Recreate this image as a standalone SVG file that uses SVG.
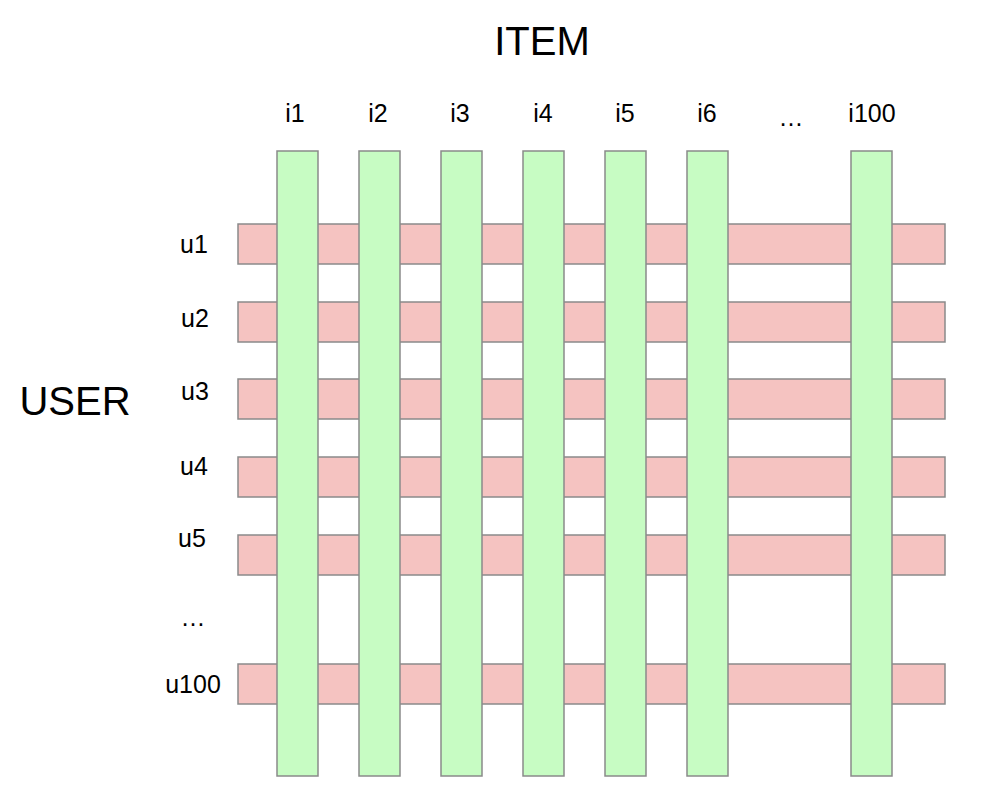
<svg xmlns="http://www.w3.org/2000/svg" width="981" height="807" viewBox="0 0 981 807">
<style>
  .row { fill: #f5c3c1; stroke: #8a8a8a; stroke-width: 1.5; }
  .col { fill: #c7fcc3; stroke: #8a8a8a; stroke-width: 1.5; }
  .lbl { font-family: "Liberation Sans", Arial, sans-serif; font-size: 25px; fill: #000; text-anchor: middle; }
  .title { font-family: "Liberation Sans", Arial, sans-serif; font-size: 40px; fill: #000; text-anchor: middle; }
</style>
<rect width="981" height="807" fill="#ffffff"/>
<text class="title" x="542" y="55">ITEM</text>
<text class="title" x="75" y="415">USER</text>
<g id="rows">
  <g id="u1"><rect class="row" x="238" y="224" width="707" height="40"/><text class="lbl" x="194" y="253">u1</text></g>
  <g id="u2"><rect class="row" x="238" y="302" width="707" height="40"/><text class="lbl" x="195" y="327">u2</text></g>
  <g id="u3"><rect class="row" x="238" y="379" width="707" height="40"/><text class="lbl" x="195" y="400">u3</text></g>
  <g id="u4"><rect class="row" x="238" y="457" width="707" height="40"/><text class="lbl" x="194" y="475">u4</text></g>
  <g id="u5"><rect class="row" x="238" y="535" width="707" height="40"/><text class="lbl" x="192" y="547">u5</text></g>
  <g id="udots"><text class="lbl" x="193" y="626">…</text></g>
  <g id="u100"><rect class="row" x="238" y="664" width="707" height="40"/><text class="lbl" x="193" y="693">u100</text></g>
</g>
<g id="cols">
  <g id="i1"><rect class="col" x="277" y="151" width="41" height="625"/><text class="lbl" x="295" y="122">i1</text></g>
  <g id="i2"><rect class="col" x="359" y="151" width="41" height="625"/><text class="lbl" x="378" y="122">i2</text></g>
  <g id="i3"><rect class="col" x="441" y="151" width="41" height="625"/><text class="lbl" x="460" y="122">i3</text></g>
  <g id="i4"><rect class="col" x="523" y="151" width="41" height="625"/><text class="lbl" x="543" y="122">i4</text></g>
  <g id="i5"><rect class="col" x="605" y="151" width="41" height="625"/><text class="lbl" x="625" y="122">i5</text></g>
  <g id="i6"><rect class="col" x="687" y="151" width="41" height="625"/><text class="lbl" x="707" y="122">i6</text></g>
  <g id="idots"><text class="lbl" x="791" y="126">…</text></g>
  <g id="i100"><rect class="col" x="851" y="151" width="41" height="625"/><text class="lbl" x="872" y="122">i100</text></g>
</g>
<g id="connectors"></g>
</svg>
